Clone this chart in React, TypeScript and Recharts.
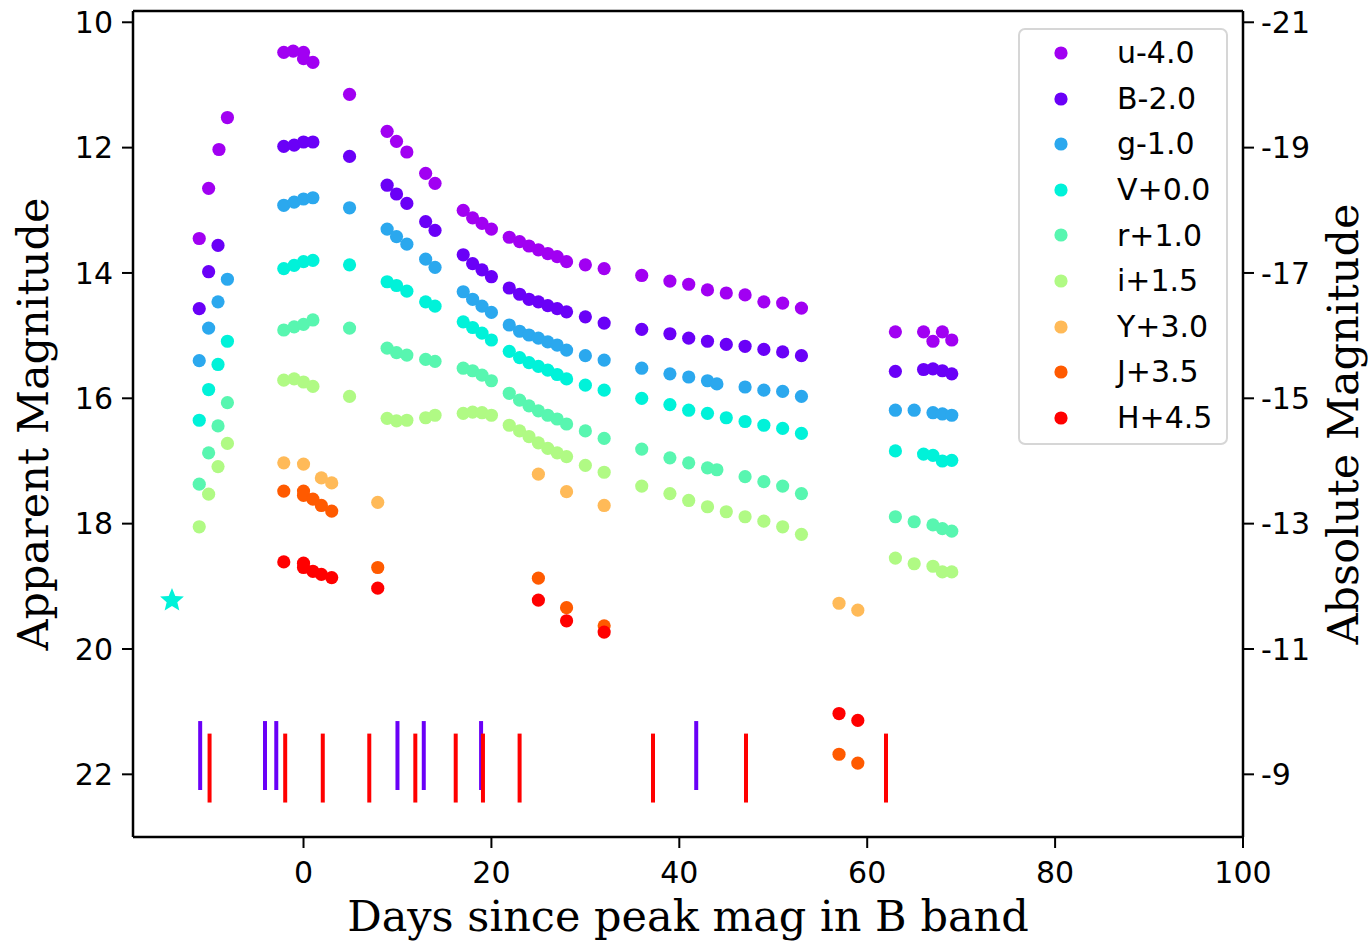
import React from 'react';
import { ScatterChart, Scatter, XAxis, YAxis, ReferenceLine, Legend, Label } from 'recharts';

// ---------- axes ----------
const xDomain = [-18.15, 100];
const yDomain = [9.82, 23.0];
const xTicks = [0, 20, 40, 60, 80, 100];
const yTicks = [10, 12, 14, 16, 18, 20, 22];
const absTickLabels = ['-21', '-19', '-17', '-15', '-13', '-11', '-9'];

// ---------- photometry (days since B peak, apparent magnitude incl. offset) ----------
const uDays = [-11.1, -10.1, -9.0, -8.1, -2.1, -1.1, 0, 0, 1.0, 4.9, 8.9, 9.9, 11.0, 13.0, 14.0, 17.0, 18.0, 19.0, 20.0, 21.9, 23.0, 24.0, 25.0, 26.0, 27.0, 28.0, 30.0, 32.0, 36.0, 39.0, 41.0, 43.0, 45.0, 47.0, 49.0, 51.0, 53.0, 63.0, 66.0, 67.0, 68.0, 69.0];
const uMag = [13.45, 12.65, 12.03, 11.52, 10.48, 10.46, 10.48, 10.58, 10.64, 11.15, 11.74, 11.90, 12.07, 12.41, 12.57, 13.00, 13.12, 13.21, 13.30, 13.43, 13.50, 13.57, 13.63, 13.69, 13.74, 13.82, 13.87, 13.93, 14.04, 14.13, 14.18, 14.27, 14.32, 14.35, 14.46, 14.48, 14.56, 14.94, 14.94, 15.09, 14.94, 15.07];

const bDays = [-11.1, -10.1, -9.1, -2.1, -1.0, 0, 1.0, 4.9, 8.9, 9.9, 11.0, 13.0, 14.0, 17, 18, 19, 20, 21.9, 23, 24, 25, 26, 27, 28, 30, 32, 36, 39, 41, 43, 45, 47, 49, 51, 53, 63, 66, 67, 68, 69];
const bMag = [14.57, 13.98, 13.56, 11.98, 11.96, 11.91, 11.91, 12.14, 12.60, 12.74, 12.89, 13.18, 13.32, 13.71, 13.85, 13.95, 14.06, 14.24, 14.34, 14.42, 14.46, 14.52, 14.57, 14.62, 14.70, 14.80, 14.90, 14.97, 15.04, 15.09, 15.14, 15.17, 15.22, 15.26, 15.32, 15.57, 15.54, 15.53, 15.56, 15.61];

const gDays = [-11.1, -10.1, -9.1, -8.1, -2.1, -1.0, 0, 1, 4.9, 8.9, 9.9, 11, 13, 14, 17, 18, 19, 20, 21.9, 23, 24, 25, 26, 27, 28, 30, 32, 36, 39, 41, 43, 44, 47, 49, 51, 53, 63, 65, 67, 68, 69];
const gMag = [15.40, 14.88, 14.46, 14.10, 12.92, 12.87, 12.82, 12.80, 12.96, 13.30, 13.42, 13.54, 13.78, 13.91, 14.30, 14.42, 14.53, 14.63, 14.83, 14.93, 14.99, 15.04, 15.10, 15.15, 15.23, 15.32, 15.39, 15.52, 15.61, 15.66, 15.72, 15.77, 15.82, 15.87, 15.89, 15.97, 16.19, 16.19, 16.23, 16.25, 16.27];

const vDays = [-11.1, -10.1, -9.1, -8.1, -2.1, -1, 0, 1, 4.9, 8.9, 9.9, 11, 13, 14, 17, 18, 19, 20, 21.9, 23, 24, 25, 26, 27, 28, 30, 32, 36, 39, 41, 43, 45, 47, 49, 51, 53, 63, 66, 67, 68, 69];
const vMag = [16.35, 15.86, 15.46, 15.09, 13.93, 13.88, 13.82, 13.80, 13.87, 14.14, 14.20, 14.29, 14.46, 14.53, 14.78, 14.87, 14.96, 15.07, 15.25, 15.35, 15.43, 15.49, 15.55, 15.62, 15.69, 15.79, 15.87, 16.00, 16.10, 16.19, 16.24, 16.31, 16.37, 16.43, 16.48, 16.56, 16.84, 16.89, 16.91, 17.00, 16.99];

const rDays = [-11.1, -10.1, -9.1, -8.1, -2.1, -1, 0, 1, 4.9, 8.9, 9.9, 11, 13, 14, 17, 18, 19, 20, 21.9, 23, 24, 25, 26, 27, 28, 30, 32, 36, 39, 41, 43, 44, 47, 49, 51, 53, 63, 65, 67, 68, 69];
const rMag = [17.37, 16.87, 16.44, 16.07, 14.91, 14.86, 14.82, 14.75, 14.88, 15.20, 15.27, 15.31, 15.38, 15.41, 15.52, 15.56, 15.63, 15.72, 15.92, 16.03, 16.12, 16.20, 16.27, 16.33, 16.41, 16.52, 16.64, 16.81, 16.95, 17.03, 17.11, 17.14, 17.25, 17.33, 17.40, 17.52, 17.89, 17.97, 18.02, 18.08, 18.12];

const iDays = [-11.1, -10.1, -9.1, -8.1, -2.1, -1, 0, 1, 4.9, 8.9, 9.9, 11, 13, 14, 17, 18, 19, 20, 21.9, 23, 24, 25, 26, 27, 28, 30, 32, 36, 39, 41, 43, 45, 47, 49, 51, 53, 63, 65, 67, 68, 69];
const iMag = [18.05, 17.53, 17.09, 16.72, 15.71, 15.69, 15.74, 15.81, 15.97, 16.32, 16.36, 16.35, 16.31, 16.27, 16.24, 16.22, 16.23, 16.27, 16.43, 16.52, 16.61, 16.71, 16.80, 16.87, 16.93, 17.07, 17.18, 17.40, 17.52, 17.63, 17.73, 17.81, 17.89, 17.96, 18.05, 18.17, 18.55, 18.64, 18.68, 18.77, 18.77];

const yDays = [-2.1, 0, 1.9, 3.0, 7.9, 25, 28, 32, 57, 59];
const yMag = [17.03, 17.05, 17.27, 17.35, 17.66, 17.21, 17.49, 17.71, 19.27, 19.38];

const jDays = [-2.1, 0, 0, 1, 1.9, 3.0, 7.9, 25, 28, 32, 57, 59];
const jMag = [17.48, 17.48, 17.55, 17.61, 17.71, 17.80, 18.70, 18.87, 19.34, 19.63, 21.68, 21.82];

const hDays = [-2.1, 0, 0, 1, 1.9, 3.0, 7.9, 25, 28, 32, 57, 59];
const hMag = [18.61, 18.63, 18.70, 18.76, 18.81, 18.86, 19.03, 19.22, 19.55, 19.73, 21.03, 21.14];

// discovery point (star)
const starDays = [-14.0];
const starMag = [19.21];

// spectra epochs (vertical ticks)
const spec1Days = [-11.0, -4.1, -2.9, 10.0, 12.8, 18.9, 41.8];
const spec1Range = [21.15, 22.25];
const spec2Days = [-10.0, -1.95, 2.05, 7.0, 11.9, 16.2, 19.1, 23.0, 37.2, 47.1, 62.0];
const spec2Range = [21.35, 22.45];

const bandNames = ['u-4.0', 'B-2.0', 'g-1.0', 'V+0.0', 'r+1.0', 'i+1.5', 'Y+3.0', 'J+3.5', 'H+4.5'];
const bandColors = ['#a100f2', '#6a00f7', '#2ba8ee', '#00f2d9', '#58f6b0', '#b0fa84', '#ffba58', '#ff5a00', '#ff0000'];
const bandDays = [uDays, bDays, gDays, vDays, rDays, iDays, yDays, jDays, hDays];
const bandMags = [uMag, bMag, gMag, vMag, rMag, iMag, yMag, jMag, hMag];

const toPts = (days: number[], mags: number[]) => days.map((d, i) => ({ x: d, y: mags[i] }));

const FONT_SANS = "'DejaVu Sans', sans-serif";
const FONT_SERIF = "'DejaVu Serif', serif";

const makeDot = (color: string) => (props: any) => (
  <circle cx={props.cx} cy={props.cy} r={6.6} fill={color} />
);

const starShape = (color: string) => (props: any) => {
  const { cx, cy } = props;
  const pts: string[] = [];
  for (let k = 0; k < 10; k++) {
    const r = k % 2 === 0 ? 12.5 : 5.6;
    const a = -Math.PI / 2 + (k * Math.PI) / 5;
    pts.push(`${cx + r * Math.cos(a)},${cy + 1 + r * Math.sin(a)}`);
  }
  return <polygon points={pts.join(' ')} fill={color} />;
};

const LegendBox = () => (
  <div
    style={{
      width: 210,
      height: 417,
      boxSizing: 'border-box',
      border: '2px solid #d6d6d6',
      borderRadius: 7,
      background: 'rgba(255,255,255,0.85)',
      position: 'relative',
      fontFamily: FONT_SANS,
      fontSize: 30,
      color: '#000',
    }}
  >
    {bandNames.map((n, i) => (
      <div key={n} style={{ position: 'absolute', left: 0, top: 23 + 45.6 * i - 22.8, height: 45.6, width: '100%' }}>
        <svg width={16} height={16} style={{ position: 'absolute', left: 33, top: 14.8 }}>
          <circle cx={8} cy={8} r={6.6} fill={bandColors[i]} />
        </svg>
        <span style={{ position: 'absolute', left: 97, top: 0, lineHeight: '45.6px', whiteSpace: 'nowrap' }}>{n}</span>
      </div>
    ))}
  </div>
);

export default function App() {
  return (
    <div style={{ position: 'absolute', left: 0, top: 0, width: 1369, height: 945, background: '#fff' }}>
      <ScatterChart width={1369} height={945} margin={{ top: 11, right: 26, bottom: 48, left: 53 }}>
        <XAxis
          type="number"
          dataKey="x"
          domain={xDomain}
          allowDataOverflow
          ticks={xTicks}
          height={60}
          axisLine={{ stroke: '#000', strokeWidth: 2.5 }}
          tickLine={{ stroke: '#000', strokeWidth: 2 }}
          tickSize={11}
          tickMargin={14}
          tick={{ fill: '#000', fontSize: 30, fontFamily: FONT_SANS }}
        >
          <Label
            content={() => (
              <text x={688} y={931} textAnchor="middle" fontFamily={FONT_SERIF} fontSize={43} fill="#000">
                Days since peak mag in B band
              </text>
            )}
          />
        </XAxis>
        <YAxis
          yAxisId="left"
          type="number"
          dataKey="y"
          domain={yDomain}
          allowDataOverflow
          reversed
          ticks={yTicks}
          width={80}
          axisLine={{ stroke: '#000', strokeWidth: 2.5 }}
          tickLine={{ stroke: '#000', strokeWidth: 2 }}
          tickSize={11}
          tickMargin={9}
          tick={{ fill: '#000', fontSize: 30, fontFamily: FONT_SANS }}
        >
          <Label
            content={() => (
              <text x={48} y={424} transform="rotate(-90 48 424)" textAnchor="middle" fontFamily={FONT_SERIF} fontSize={43} fill="#000">
                Apparent Magnitude
              </text>
            )}
          />
        </YAxis>
        <YAxis
          yAxisId="right"
          orientation="right"
          type="number"
          dataKey="y"
          domain={yDomain}
          allowDataOverflow
          reversed
          ticks={yTicks}
          tickFormatter={(v: number) => absTickLabels[yTicks.indexOf(v)]}
          width={100}
          axisLine={{ stroke: '#000', strokeWidth: 2.5 }}
          tickLine={{ stroke: '#000', strokeWidth: 2 }}
          tickSize={11}
          tickMargin={7}
          tick={{ fill: '#000', fontSize: 30, fontFamily: FONT_SANS }}
        >
          <Label
            content={() => (
              <text x={1358} y={424} transform="rotate(-90 1358 424)" textAnchor="middle" fontFamily={FONT_SERIF} fontSize={43} fill="#000">
                Absolute Magnitude
              </text>
            )}
          />
        </YAxis>
        <ReferenceLine yAxisId="left" y={yDomain[0]} stroke="#000" strokeWidth={2.5} ifOverflow="visible" />

        {bandNames.map((n, i) => (
          <Scatter
            key={n}
            name={n}
            yAxisId="left"
            data={toPts(bandDays[i], bandMags[i])}
            fill={bandColors[i]}
            shape={makeDot(bandColors[i])}
            isAnimationActive={false}
          />
        ))}
        <Scatter
          name="discovery"
          yAxisId="left"
          data={toPts(starDays, starMag)}
          fill={bandColors[3]}
          shape={starShape(bandColors[3])}
          legendType="none"
          isAnimationActive={false}
        />

        {spec1Days.map((d, i) => (
          <ReferenceLine
            key={'s1' + i}
            yAxisId="left"
            segment={[{ x: d, y: spec1Range[0] }, { x: d, y: spec1Range[1] }]}
            stroke={bandColors[1]}
            strokeWidth={4}
          />
        ))}
        {spec2Days.map((d, i) => (
          <ReferenceLine
            key={'s2' + i}
            yAxisId="left"
            segment={[{ x: d, y: spec2Range[0] }, { x: d, y: spec2Range[1] }]}
            stroke="#ff0000"
            strokeWidth={4}
          />
        ))}

        <Legend
          layout="horizontal"
          verticalAlign="middle"
          align="center"
          wrapperStyle={{ left: 1018, top: 28, width: 210, height: 417 }}
          content={() => <LegendBox />}
        />
      </ScatterChart>
    </div>
  );
}
